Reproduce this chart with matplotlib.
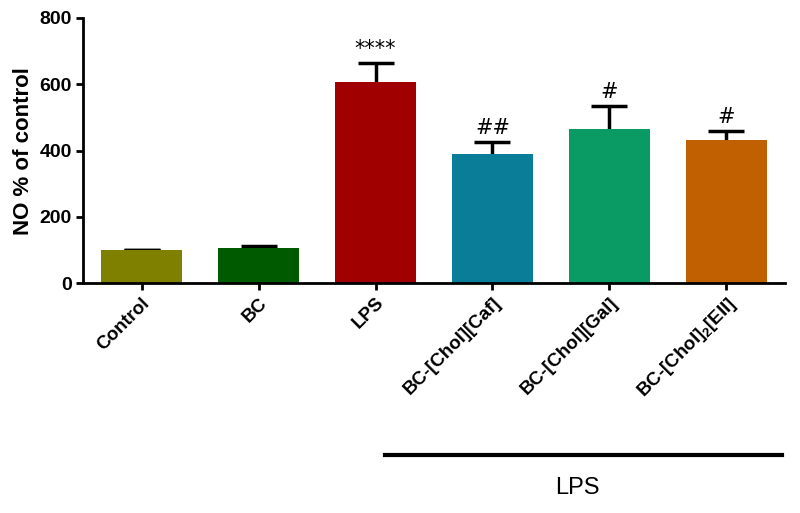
import numpy as np
import matplotlib
matplotlib.use('Agg')
import matplotlib.pyplot as plt
import matplotlib.transforms as mtransforms

plt.rcParams['font.family'] = ['Liberation Sans', 'DejaVu Sans']
plt.rcParams['mathtext.fontset'] = 'custom'
plt.rcParams['mathtext.rm'] = 'Liberation Sans'

groups = ['Control', 'BC', 'LPS', 'BC-[Chol][Caf]', 'BC-[Chol][Gal]',
          'BC-[Chol]$\\mathregular{_2}$[Ell]']
values = [100, 106, 606, 390, 465, 431]
errors = [0, 6, 57, 36, 70, 27]
marks = ['', '', '****', '##', '#', '#']
colors = ['#808000', '#005a00', '#a00000', '#0a7e98', '#0a9a64', '#c06000']

fig = plt.figure(figsize=(8, 5.13), dpi=100)
ax = fig.add_axes([0.104, 0.448, 0.877, 0.517])

x = np.arange(len(groups))
ax.bar(x, values, width=0.69, color=colors, zorder=2)
# errorbars drawn behind bars so only the upper cap shows
ax.errorbar(x, values, yerr=errors, fmt='none',
            ecolor='black', elinewidth=2.5, capsize=13, capthick=2.5, zorder=1)

for xi, v, e, m in zip(x, values, errors, marks):
    if m:
        ax.text(xi, v + e + 12, m, ha='center', va='bottom', fontsize=15,
                family='DejaVu Sans')

ax.set_xlim(-0.5, 5.5)
ax.set_ylim(0, 800)
ax.set_yticks([0, 200, 400, 600, 800])
ax.set_xticks(x)
ax.set_xticklabels(groups, rotation=45, ha='right', rotation_mode='anchor',
                   fontsize=13.5, fontweight='bold')
for lab in ax.get_yticklabels():
    lab.set_fontweight('bold')
    lab.set_fontsize(14)
ax.set_ylabel('NO % of control', fontsize=16, fontweight='bold', labelpad=4)

for s in ['top', 'right']:
    ax.spines[s].set_visible(False)
for s in ['left', 'bottom']:
    ax.spines[s].set_linewidth(2)
ax.tick_params(width=2, length=5, direction='out', pad=3)

trans = mtransforms.blended_transform_factory(ax.transData, ax.transAxes)
ax.plot([2.085, 5.48], [-0.649, -0.649], color='black', lw=3,
        transform=trans, clip_on=False)
ax.text(3.73, -0.774, 'LPS', transform=trans, ha='center', va='center',
        fontsize=17)

fig.savefig('out.png', dpi=100)
